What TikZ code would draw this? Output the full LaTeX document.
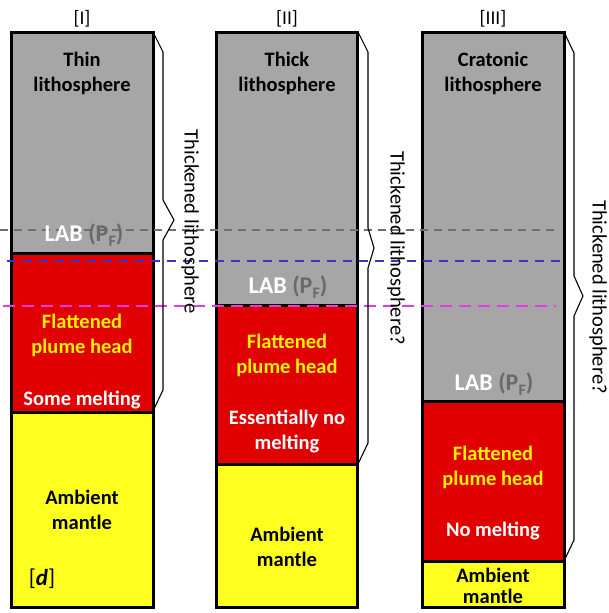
\documentclass[tikz,border=0pt]{standalone}
\usepackage{fontspec}
\setmainfont{Carlito}
\definecolor{litho}{HTML}{A6A6A6}
\definecolor{plume}{HTML}{E00000}
\definecolor{mantle}{HTML}{FFFF1F}
\definecolor{labgray}{HTML}{6A6A6A}
\definecolor{dgray}{HTML}{707070}
\definecolor{dblue}{HTML}{3535C8}
\definecolor{dmag}{HTML}{E53BE5}
\newcommand{\labtext}{{\color{white}LAB} {\color{labgray}(P\raisebox{-0.45ex}{\fontsize{16}{16}\selectfont F})}}
\begin{document}
\begin{tikzpicture}[x=1pt,y=-1pt,
  txt/.style={align=center,font=\fontsize{20.5}{25}\selectfont\bfseries,inner sep=0pt},
  labtxt/.style={font=\fontsize{24}{26}\selectfont\bfseries,inner sep=0pt,anchor=base},
  hdr/.style={font=\fontsize{19.5}{22}\selectfont,inner sep=0pt},
  bracelbl/.style={font=\fontsize{20.5}{24}\selectfont,rotate=-90,inner sep=0pt},
  border/.style={line width=3pt,line join=miter},
  bracel/.style={line width=1.1pt,line join=miter},
  dashg/.style={dgray,line width=1.3pt,dash pattern=on 8pt off 6pt},
  dashb/.style={dblue,line width=1.3pt,dash pattern=on 9pt off 7pt},
  dashm/.style={dmag,line width=1.5pt,dash pattern=on 12pt off 7pt}]
\useasboundingbox (0,0) rectangle (609,613);

% ---------- fills ----------
\fill[litho]  (11.5,32) rectangle (153,253.5);
\fill[plume]  (11.5,253.5) rectangle (153,412.5);
\fill[mantle] (11.5,412.5) rectangle (153,607);

\fill[litho]  (216,32) rectangle (357.5,305.5);
\fill[plume]  (216,305.5) rectangle (357.5,464);
\fill[mantle] (216,464) rectangle (357.5,607);

\fill[litho]  (422,32) rectangle (564,401.5);
\fill[plume]  (422,401.5) rectangle (564,561);
\fill[mantle] (422,561) rectangle (564,607);

% ---------- borders ----------
\draw[border] (11.5,32) rectangle (153,607);
\draw[border] (11.5,253.5) -- (153,253.5);
\draw[border] (11.5,412.5) -- (153,412.5);

\draw[border] (216,32) rectangle (357.5,607);
\draw[border] (216,305.5) -- (357.5,305.5);
\draw[border] (216,464) -- (357.5,464);

\draw[border] (422,32) rectangle (564,607);
\draw[border] (422,401.5) -- (564,401.5);
\draw[border] (422,561) -- (564,561);

% ---------- dashed levels ----------
\coordinate (g0) at (0,230);   \coordinate (g1) at (560,230);
\coordinate (b0) at (7,261);   \coordinate (b1) at (564,261);
\coordinate (m0) at (3,306);   \coordinate (m1) at (556,306);
\draw[dashg] (g0) -- (g1);
\draw[dashb] (b0) -- (b1);
\draw[dashm] (m0) -- (m1);

% ---------- braces ----------
\draw[bracel] (153,32) -- (163,52) -- (163,200) -- (174,220) -- (163,240) -- (163,390) -- (153,411);
\draw[bracel] (358,32) -- (368,52) -- (368,228) -- (374,248) -- (368,268) -- (368,443) -- (358,464);
\draw[bracel] (564,32) -- (574,53) -- (574,276) -- (583,296) -- (574,316) -- (574,540) -- (564,561);

\node[bracelbl] (t1) at (190,222) {Thickened lithosphere};
\node[bracelbl] (t2) at (396,248) {Thickened lithosphere?};
\node[bracelbl] (t3) at (598,297) {Thickened lithosphere?};

% ---------- headers ----------
\node[hdr] (h1) at (82,19) {[I]};
\node[hdr] (h2) at (287,19) {[II]};
\node[hdr] (h3) at (493,19) {[III]};

% ---------- column I ----------
\node[txt] (l1) at (82,73) {Thin\\lithosphere};
\node[labtxt] (lab1) at (84,241) {\labtext};
\node[txt,text=yellow] (p1) at (82,335) {Flattened\\plume head};
\node[txt,text=white] (s1) at (82,400) {Some melting};
\node[txt] (a1) at (82,510) {Ambient\\mantle};
\node[font=\fontsize{23}{24}\selectfont,inner sep=0pt] (d1) at (42,579) {[\textbf{\textit{d}}]};

% ---------- column II ----------
\node[txt] (l2) at (287,73) {Thick\\lithosphere};
\node[labtxt] (lab2) at (288,293) {\labtext};
\node[txt,text=yellow] (p2) at (287,355) {Flattened\\plume head};
\node[txt,text=white] (s2) at (287,432) {Essentially no\\melting};
\node[txt] (a2) at (287,547) {Ambient\\mantle};

% ---------- column III ----------
\node[txt] (l3) at (493,73) {Cratonic\\lithosphere};
\node[labtxt] (lab3) at (494,390) {\labtext};
\node[txt,text=yellow] (p3) at (493,467) {Flattened\\plume head};
\node[txt,text=white] (s3) at (493,531) {No melting};
\node[txt,font=\fontsize{20.5}{21}\selectfont\bfseries] (a3) at (493,586) {Ambient\\mantle};
\end{tikzpicture}
\end{document}
